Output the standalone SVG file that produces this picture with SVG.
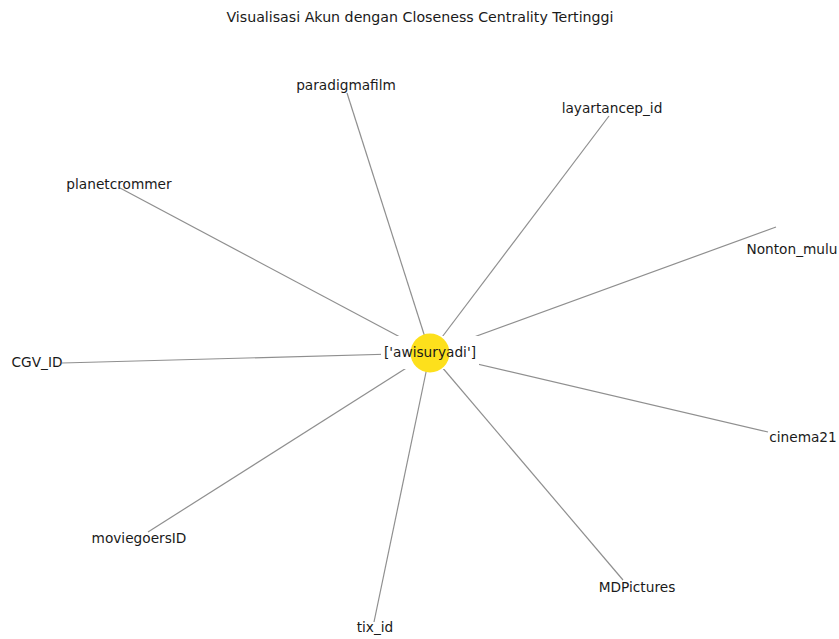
<svg xmlns="http://www.w3.org/2000/svg" width="839" height="639" viewBox="0 0 839 639">
<style>
text{font-family:"DejaVu Sans",sans-serif;font-size:13.7px;fill:#1a1a1a;text-anchor:middle;dominant-baseline:central}
.t{font-size:14.2px}
.e{stroke:#8f8f8f;stroke-width:1.2;fill:none}
</style>
<rect width="839" height="639" fill="#ffffff"/>
<text class="t" x="420" y="17">Visualisasi Akun dengan Closeness Centrality Tertinggi</text>
<g id="edges">
<line class="e" x1="430" y1="353" x2="347" y2="93"/>
<line class="e" x1="430" y1="353" x2="609" y2="116"/>
<line class="e" x1="430" y1="353" x2="120" y2="188"/>
<line class="e" x1="430" y1="353" x2="776" y2="227"/>
<line class="e" x1="430" y1="353" x2="62" y2="363"/>
<line class="e" x1="430" y1="353" x2="768" y2="432"/>
<line class="e" x1="430" y1="353" x2="623" y2="580"/>
<line class="e" x1="430" y1="353" x2="374" y2="622"/>
<line class="e" x1="430" y1="353" x2="148" y2="532"/>
</g>
<g id="awisuryadi">
<rect x="381" y="336" width="98" height="33" fill="#ffffff"/>
<circle cx="430" cy="353" r="19.5" fill="#FDE01C"/>
<text x="430" y="352">['awisuryadi']</text>
</g>
<g id="paradigmafilm"><text x="346" y="85">paradigmafilm</text></g>
<g id="layartancep_id"><text x="612" y="108">layartancep_id</text></g>
<g id="planetcrommer"><text x="119" y="184">planetcrommer</text></g>
<g id="Nonton_mulu"><text x="792" y="249">Nonton_mulu</text></g>
<g id="CGV_ID"><text x="37" y="362">CGV_ID</text></g>
<g id="cinema21"><text x="803" y="437">cinema21</text></g>
<g id="MDPictures"><text x="637" y="587">MDPictures</text></g>
<g id="tix_id"><text x="375" y="627">tix_id</text></g>
<g id="moviegoersID"><text x="139" y="538">moviegoersID</text></g>
</svg>
